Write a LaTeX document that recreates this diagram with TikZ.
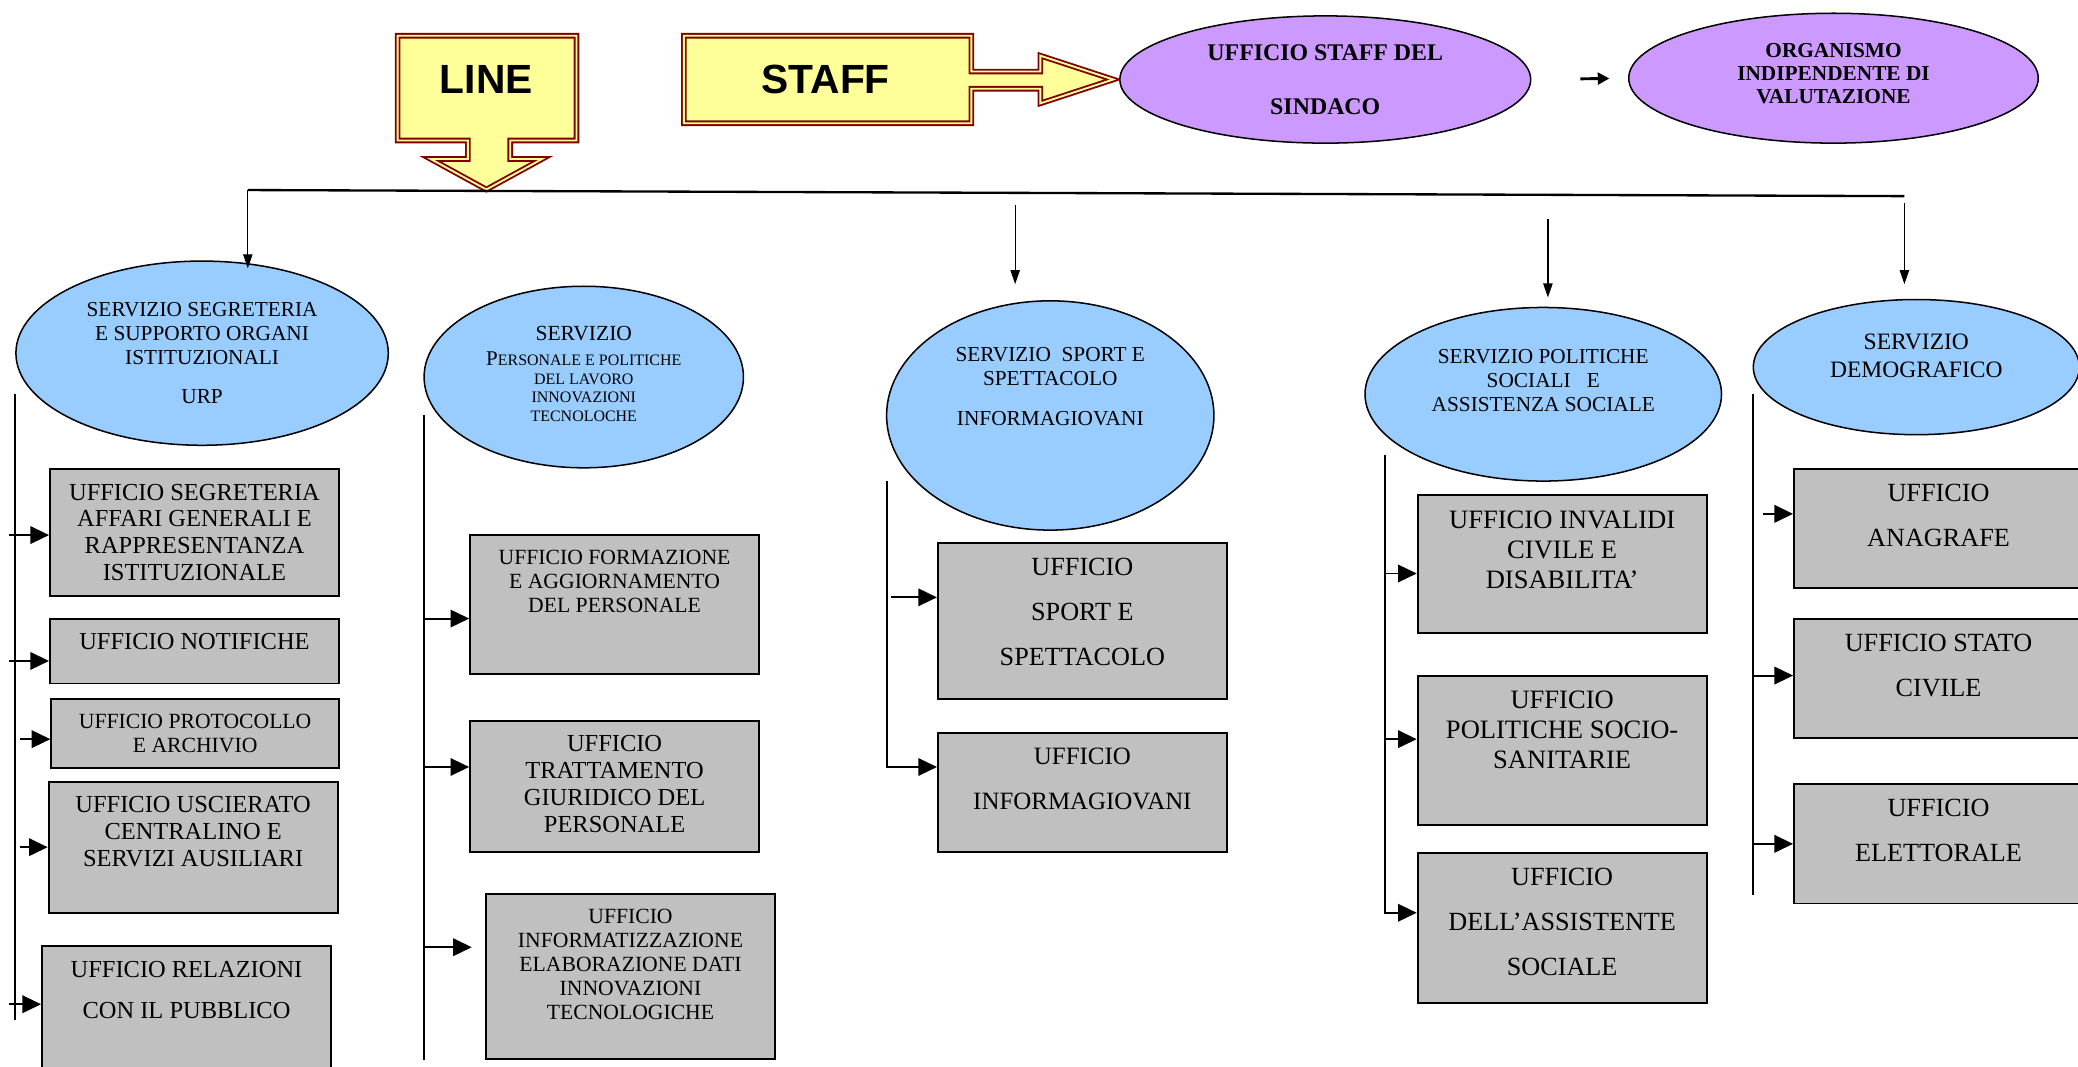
\documentclass[tikz,border=0pt]{standalone}
\usepackage{fontspec}
\setmainfont{Liberation Serif}
\newfontfamily\bloccofont{Liberation Sans}
\usetikzlibrary{shapes.geometric,arrows.meta,calc}
\definecolor{azzurro}{HTML}{99CCFF}
\definecolor{lilla}{HTML}{CC99FF}
\definecolor{grigio}{HTML}{C0C0C0}
\definecolor{giallo}{HTML}{FFFF99}
\definecolor{bordeaux}{HTML}{800000}

\begin{document}
\begin{tikzpicture}[x=0.04cm,y=-0.04cm,>={Triangle[length=16pt,width=15pt]}]
  \def\pu{0.04cm}

\tikzstyle{ufficio}=[draw,line width=1.7pt,fill=grigio,anchor=north west,minimum width=218*\pu,inner sep=0pt]
\tikzstyle{testo}=[anchor=north,align=center,inner sep=0pt,yshift=-12*\pu]
\tikzstyle{servizio}=[ellipse,draw,line width=1.3pt,fill=azzurro,inner sep=0pt]
\tikzstyle{staff}=[ellipse,draw,line width=1.3pt,fill=lilla,inner sep=0pt]
\tikzstyle{scritta}=[align=center,inner sep=0pt,font=\fontsize{18.3}{20.5}\selectfont]
\tikzstyle{freccione}=[draw=bordeaux,line width=1.6pt,double=giallo,double distance=1.6pt,fill=giallo]
\tikzstyle{blocco}=[font=\bloccofont\bfseries\fontsize{35}{35}\selectfont]
\tikzstyle{ramo}=[->,line width=1.7pt]
\tikzstyle{tronco}=[line width=1.7pt]
\tikzstyle{discesa}=[->,line width=1.1pt,>={Triangle[length=12pt,width=8pt]}]
\tikzstyle{fA}=[font=\fontsize{21}{23}\selectfont]
\tikzstyle{fB}=[font=\fontsize{18.6}{20.6}\selectfont]
\tikzstyle{fC}=[font=\fontsize{22.5}{38.6}\selectfont]
\tikzstyle{fD}=[font=\fontsize{22.8}{26}\selectfont]

\useasboundingbox (0,0) rectangle (1568,805);
\clip (0,0) rectangle (1568,805);

\draw[freccione] (300,27) -- (435,27) -- (435,106) -- (385,106) -- (385,120) -- (409,120) -- (367,143) -- (325,120) -- (353,120) -- (353,106) -- (300,106) -- cycle;
\node[blocco] (linea) at (367,60) {LINE};
\draw[freccione] (516,27) -- (733,27) -- (733,54) -- (785,54) -- (785,42) -- (840,60) -- (785,78) -- (785,67) -- (733,67) -- (733,93) -- (516,93) -- cycle;
\node[blocco] (staffbox) at (623,60) {STAFF};

\node[staff,minimum width=310*\pu,minimum height=96*\pu,label={[scritta,font=\bfseries\fontsize{20.5}{46.7}\selectfont]center:{UFFICIO STAFF DEL\\SINDACO}}] (T1) at (1000,60) {};
\node[staff,minimum width=309*\pu,minimum height=98*\pu,label={[scritta,yshift=3.5*\pu,font=\bfseries\fontsize{18.3}{20}\selectfont]center:{ORGANISMO\\INDIPENDENTE DI\\VALUTAZIONE}}] (T2) at (1383.5,59) {};
\draw[->,line width=2.5pt,>={Triangle[length=10pt,width=10pt]},shorten <=37*\pu,shorten >=14*\pu] (T1.east) -- (T2.west);

\node[servizio,minimum width=281*\pu,minimum height=139*\pu,label={[scritta]center:{SERVIZIO SEGRETERIA\\E SUPPORTO ORGANI\\ISTITUZIONALI\\[13.5pt]URP}}] (S1) at (152.5,266.5) {};
\node[servizio,minimum width=241*\pu,minimum height=137*\pu,label={[scritta,yshift=2.5*\pu,font=\fontsize{13.7}{16}\selectfont]center:{{\fontsize{18.5}{21}\selectfont SERVIZIO}\\[5.6pt]{\fontsize{18}{16}\selectfont P}ERSONALE E POLITICHE\\DEL LAVORO\\INNOVAZIONI\\TECNOLOCHE}}] (S2) at (440.5,284.5) {};
\node[servizio,minimum width=247*\pu,minimum height=173*\pu,label={[scritta,yshift=22*\pu]center:{SERVIZIO~~SPORT E\\SPETTACOLO\\[13.6pt]INFORMAGIOVANI}}] (S3) at (792.5,313.5) {};
\node[servizio,minimum width=269*\pu,minimum height=131*\pu,label={[scritta,yshift=10.5*\pu]center:{SERVIZIO POLITICHE\\SOCIALI~~~E\\ASSISTENZA SOCIALE}}] (S4) at (1164.5,297.5) {};
\node[servizio,minimum width=246*\pu,minimum height=102*\pu,label={[scritta,yshift=8.5*\pu,font=\fontsize{20.2}{24}\selectfont]center:{SERVIZIO\\DEMOGRAFICO}}] (S5) at (1446,277) {};

\node[ufficio,minimum height=96*\pu,label={[testo,fA]north:{UFFICIO SEGRETERIA\\AFFARI GENERALI E\\RAPPRESENTANZA\\ISTITUZIONALE}}] (A1) at (37,353) {};
\node[ufficio,minimum height=49*\pu,label={[testo,fA]north:{UFFICIO NOTIFICHE}}] (A2) at (37,466) {};
\node[ufficio,minimum width=217*\pu,minimum height=52*\pu,label={[testo,fB]north:{UFFICIO PROTOCOLLO\\E ARCHIVIO}}] (A3) at (38,527) {};
\node[ufficio,minimum height=99*\pu,label={[testo,fA]north:{UFFICIO USCIERATO\\CENTRALINO E\\SERVIZI AUSILIARI}}] (A4) at (36,589) {};
\node[ufficio,minimum height=117*\pu,label={[testo,font=\fontsize{21}{35}\selectfont]north:{UFFICIO RELAZIONI\\CON IL PUBBLICO}}] (A5) at (31,713) {};

\node[ufficio,minimum height=105*\pu,label={[testo,fB]north:{UFFICIO FORMAZIONE\\E AGGIORNAMENTO\\DEL PERSONALE}}] (B1) at (354,403) {};
\node[ufficio,minimum height=99*\pu,label={[testo,fA]north:{UFFICIO\\TRATTAMENTO\\GIURIDICO DEL\\PERSONALE}}] (B2) at (354,543) {};
\node[ufficio,minimum height=124*\pu,label={[testo,fB]north:{UFFICIO\\INFORMATIZZAZIONE\\ELABORAZIONE DATI\\INNOVAZIONI\\TECNOLOGICHE}}] (B3) at (366,674) {};

\node[ufficio,minimum height=118*\pu,label={[testo,fC]north:{UFFICIO\\SPORT E\\SPETTACOLO}}] (C1) at (707,409) {};
\node[ufficio,minimum height=90*\pu,label={[testo,font=\fontsize{21.4}{38.6}\selectfont]north:{UFFICIO\\INFORMAGIOVANI}}] (C2) at (707,552) {};

\node[ufficio,minimum height=104*\pu,label={[testo,fD]north:{UFFICIO INVALIDI\\CIVILE E\\DISABILITA’}}] (D1) at (1069,373) {};
\node[ufficio,minimum height=113*\pu,label={[testo,fD]north:{UFFICIO\\POLITICHE SOCIO-\\SANITARIE}}] (D2) at (1069,509) {};
\node[ufficio,minimum height=113*\pu,label={[testo,fC]north:{UFFICIO\\DELL’ASSISTENTE\\SOCIALE}}] (D3) at (1069,643) {};

\node[ufficio,minimum height=90*\pu,label={[testo,fC]north:{UFFICIO\\ANAGRAFE}}] (E1) at (1353,353) {};
\node[ufficio,minimum height=90*\pu,label={[testo,fC]north:{UFFICIO STATO\\CIVILE}}] (E2) at (1353,466) {};
\node[ufficio,minimum height=90*\pu,label={[testo,fC]north:{UFFICIO\\ELETTORALE}}] (E3) at (1353,591) {};

\coordinate (H1) at (187,143.4);
\coordinate (H2) at (1437,148);
\coordinate (H3) at (766,155);
\coordinate (H4) at (1168,165);
\coordinate (H5) at (1437,153);
\draw[line width=2pt] (H1) -- (H2);
\draw[discesa,shorten >=-6*\pu] (H1) -- (H1 |- S1.north);
\draw[discesa,shorten >=12*\pu] (H3) -- (H3 |- S3.north);
\draw[discesa,shorten >=7*\pu] (H4) -- (H4 |- S4.north);
\draw[discesa,shorten >=11*\pu] (H5) -- (H5 |- S5.north);

\coordinate (VA) at (11,297);
\coordinate (VA2) at (11,770);
\draw[tronco] (VA) -- (VA2);
\draw[ramo] ($(VA |- A1.west)+(-4,2)$) -- ($(A1.west)+(0,2)$);
\draw[ramo] ($(VA |- A2.west)+(-4,7.5)$) -- ($(A2.west)+(0,7.5)$);
\draw[ramo] ($(VA |- A3.west)+(4,4)$) -- ($(A3.west)+(0,4)$);
\draw[ramo] ($(VA |- A4.west)+(4,0)$) -- (A4.west);
\draw[ramo] ($(VA |- A5.west)+(-4,-14.5)$) -- ($(A5.west)+(0,-14.5)$);

\coordinate (VB) at (320,313);
\coordinate (VB2) at (320,800);
\draw[tronco] (VB) -- (VB2);
\draw[ramo] ($(VB |- B1.west)+(0,10.5)$) -- ($(B1.west)+(0,10.5)$);
\draw[ramo] ($(VB |- B2.west)+(0,-14.5)$) -- ($(B2.west)+(0,-14.5)$);
\draw[ramo,shorten >=10*\pu] ($(VB |- B3.west)+(0,-22)$) -- ($(B3.west)+(0,-22)$);

\coordinate (VC) at (669,363);
\draw[ramo] ($(VC |- C1.west)+(3,-18)$) -- ($(C1.west)+(0,-18)$);
\draw[ramo] (VC) |- ($(C2.west)+(0,-19)$);

\coordinate (VD) at (1045,343);
\draw[ramo] ($(VD |- D1.west)+(0,7)$) -- ($(D1.west)+(0,7)$);
\draw[ramo] ($(VD |- D2.west)+(0,-8.5)$) -- ($(D2.west)+(0,-8.5)$);
\draw[ramo] (VD) |- ($(D3.west)+(0,-11.5)$);

\coordinate (VE) at (1323,297);
\coordinate (VE2) at (1323,675);
\draw[tronco] (VE) -- (VE2);
\draw[ramo] ($(VE |- E1.west)+(7,-11)$) -- ($(E1.west)+(0,-11)$);
\draw[ramo] ($(VE |- E2.west)+(0,-2)$) -- ($(E2.west)+(0,-2)$);
\draw[ramo] (VE |- E3.west) -- (E3.west);
\end{tikzpicture}
\end{document}
